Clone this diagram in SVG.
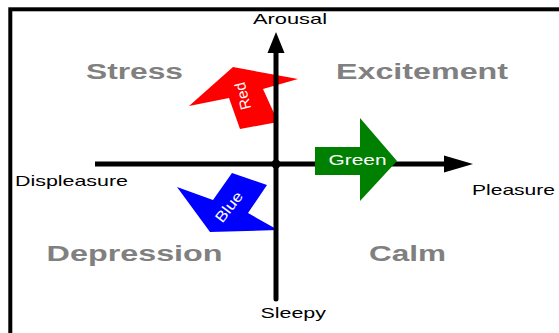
<svg xmlns="http://www.w3.org/2000/svg" width="559" height="333" viewBox="0 0 559 333">
<style>
.lbl{font-family:"Liberation Sans",Arial,sans-serif;font-size:15px;fill:#000}
.quad{font-family:"Liberation Sans",Arial,sans-serif;font-size:22px;font-weight:bold;fill:#808080}
.in{font-family:"Liberation Sans",Arial,sans-serif;font-size:15px;fill:#fff}
.axis{stroke:#000;stroke-width:5;fill:none}
</style>
<rect x="0" y="0" width="559" height="333" fill="#fff"/>
<rect id="frame" x="10.3" y="9.3" width="600" height="400" fill="none" stroke="#000" stroke-width="4"/>
<g id="quadrants">
<text class="quad" x="86" y="79" textLength="97" lengthAdjust="spacingAndGlyphs">Stress</text>
<text class="quad" x="336" y="79" textLength="172" lengthAdjust="spacingAndGlyphs">Excitement</text>
<text class="quad" x="46.6" y="260.5" textLength="176" lengthAdjust="spacingAndGlyphs">Depression</text>
<text class="quad" x="369" y="260.5" textLength="77" lengthAdjust="spacingAndGlyphs">Calm</text>
</g>
<g id="red">
<polygon points="233,67 298,79 263,89 278,122 240,129 229,98 189,106" fill="#ff0000"/>
<text class="in" transform="translate(243,96) rotate(-104)" text-anchor="middle" dy="5" textLength="28" lengthAdjust="spacingAndGlyphs">Red</text>
</g>
<g id="blue">
<polygon points="232,173 267,185 248,213 278,230 210,232 177,187 213,200" fill="#0000ff"/>
<text class="in" transform="translate(229,207) rotate(-52)" text-anchor="middle" dy="5" textLength="35" lengthAdjust="spacingAndGlyphs">Blue</text>
</g>
<g id="connectors">
<line class="axis" x1="95" y1="164" x2="446" y2="164"/>
<polygon points="473,164 444,155.5 444,172.5" fill="#000"/>
<line class="axis" x1="276" y1="299" x2="276" y2="51" stroke-linecap="round"/>
<polygon points="276,32 267.5,53 284.5,53" fill="#000"/>
<circle cx="276" cy="164" r="4.5" fill="#000"/>
</g>
<g id="green">
<polygon points="315,147 360,147 360,118 397,161 360,201 360,175 315,175" fill="#008000"/>
<text class="in" x="328.5" y="164.5" textLength="58" lengthAdjust="spacingAndGlyphs">Green</text>
</g>
<g id="labels">
<text class="lbl" font-size="14" x="253" y="24" textLength="74" lengthAdjust="spacingAndGlyphs">Arousal</text>
<text class="lbl" x="15" y="185.5" textLength="113" lengthAdjust="spacingAndGlyphs">Displeasure</text>
<text class="lbl" x="472" y="194.5" textLength="83" lengthAdjust="spacingAndGlyphs">Pleasure</text>
<text class="lbl" x="260.5" y="317.5" textLength="65.5" lengthAdjust="spacingAndGlyphs">Sleepy</text>
</g>
</svg>
